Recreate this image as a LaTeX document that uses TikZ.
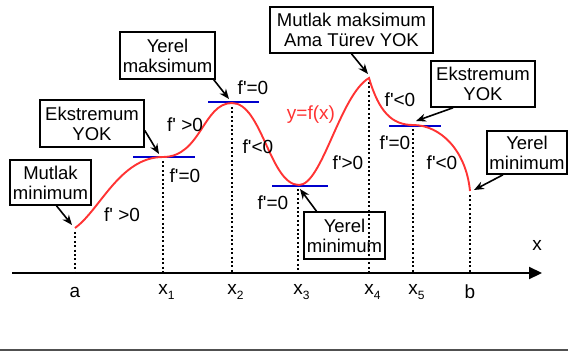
\documentclass[tikz,border=0pt]{standalone}
\usepackage{fontspec}
\setmainfont{Liberation Sans}
\usetikzlibrary{arrows.meta}
\definecolor{cred}{RGB}{255,51,51}
\definecolor{cblue}{RGB}{0,0,204}
\definecolor{cgray}{RGB}{80,80,80}
\newcommand{\fpr}{f\textquotesingle}
\begin{document}
\begin{tikzpicture}[x=1pt,y=-1pt,
 box/.style={draw,line width=1.6pt,align=center,inner sep=0pt,font=\fontsize{18.5}{20}\selectfont},
 lbl/.style={font=\fontsize{19}{20}\selectfont,inner sep=0pt},
 ptr/.style={line width=1.6pt,-{Stealth[length=10pt,width=8pt]}},
 tang/.style={cblue,line width=2.2pt},
 guide/.style={line width=2pt,dash pattern=on 2pt off 2.4pt},
]
\useasboundingbox (0,0) rectangle (568,356);
% bottom rule
\coordinate (r0) at (0,350); \coordinate (r1) at (568,350);
\draw[cgray,line width=1.5pt] (r0) -- (r1);
% axis
\coordinate (ax0) at (12,273); \coordinate (ax1) at (542,273);
\draw[line width=2.2pt,-{Triangle[length=13pt,width=12pt]}] (ax0) -- (ax1);
\node[lbl] (xl) at (537,245) {x};
% curve points
\coordinate (pa) at (75,228);
\coordinate (p1) at (163,157);
\coordinate (p2) at (232,103);
\coordinate (p3) at (299,185);
\coordinate (p4) at (369,78);
\coordinate (p5) at (413,125);
\coordinate (pb) at (470,191);
% feet
\foreach \n/\x in {a/75,1/163,2/232,3/298,4/369,5/413,b/470}{\coordinate (f\n) at (\x,273);}
% guides
\draw[guide] (75,232) -- (fa);
\draw[guide] (163,161) -- (f1);
\draw[guide] (232,107) -- (f2);
\draw[guide] (298,189) -- (f3);
\draw[guide] (369,82) -- (f4);
\draw[guide] (413,129) -- (f5);
\draw[guide] (470,195) -- (fb);
% tangents
\draw[tang] (133,157) -- (195,157);
\draw[tang] (208,102) -- (259,102);
\draw[tang] (272,186) -- (328,186);
\draw[tang] (389,126) -- (441,126);
% curve
\draw[cred,line width=1.9pt] (pa) .. controls (100,210) and (120,157) .. (p1)
  .. controls (201,157) and (203,103) .. (p2)
  .. controls (262,103) and (270,185) .. (p3)
  .. controls (322,185) and (340,95) .. (p4)
  .. controls (379,112) and (392,125) .. (p5)
  .. controls (440,125) and (466,150) .. (pb);
% axis labels
\node[lbl] (la) at (75,292) {a};
\node[lbl] (l1) at (163,292) {x\rlap{\raisebox{-5pt}{\fontsize{12}{12}\selectfont 1}}};
\node[lbl] (l2) at (232,292) {x\rlap{\raisebox{-5pt}{\fontsize{12}{12}\selectfont 2}}};
\node[lbl] (l3) at (298,292) {x\rlap{\raisebox{-5pt}{\fontsize{12}{12}\selectfont 3}}};
\node[lbl] (l4) at (369,292) {x\rlap{\raisebox{-5pt}{\fontsize{12}{12}\selectfont 4}}};
\node[lbl] (l5) at (413,292) {x\rlap{\raisebox{-5pt}{\fontsize{12}{12}\selectfont 5}}};
\node[lbl] (lb) at (470,292) {b};
% derivative labels
\node[lbl] (d1) at (253,88) {\fpr=0};
\node[lbl] (d2) at (185,125) {\fpr{} >0};
\node[lbl] (d3) at (258,147) {\fpr<0};
\node[lbl] (d4) at (185,176) {\fpr=0};
\node[lbl] (d5) at (122,215) {\fpr{} >0};
\node[lbl] (d6) at (273,203) {\fpr=0};
\node[lbl,text=cred] (yf) at (311,115) {y=f(x)};
\node[lbl] (d7) at (348,163) {\fpr>0};
\node[lbl] (d8) at (400,100) {\fpr<0};
\node[lbl] (d9) at (395,143) {\fpr=0};
\node[lbl] (d10) at (442,163) {\fpr<0};
% boxes
\node[box,minimum width=81pt,minimum height=45pt] (bmin) at (50.5,182.5) {Mutlak\\minimum};
\node[box,minimum width=104pt,minimum height=47pt] (bek1) at (92,123.5) {Ekstremum\\YOK};
\node[box,minimum width=95pt,minimum height=47pt] (bymax) at (167.5,55.5) {Yerel\\maksimum};
\node[box,minimum width=163pt,minimum height=46pt] (bmax) at (351.5,30) {Mutlak maksimum\\Ama Türev YOK};
\node[box,minimum width=104pt,minimum height=46pt] (bek2) at (483,84) {Ekstremum\\YOK};
\node[box,minimum width=80pt,minimum height=43pt] (bymin2) at (527,152.5) {Yerel\\minimum};
\node[box,minimum width=81pt,minimum height=47pt] (bymin1) at (344.5,235.5) {Yerel\\minimum};
% arrow tips
\coordinate (t1) at (72,225);
\coordinate (t2) at (159,154);
\coordinate (t3) at (229,99);
\coordinate (t4) at (368,74);
\coordinate (t5) at (416,121);
\coordinate (t6) at (474,190);
\coordinate (t7) at (300,189);
\draw[ptr] (bmin.south) ++(6,0) -- (t1);
\draw[ptr] (bek1.east) ++(0,7) -- (t2);
\draw[ptr] (bymax.south east) ++(-2,0) -- (t3);
\draw[ptr] (bmax.south) ++(0,0) -- (t4);
\draw[ptr] (bek2.south) ++(-30,0) -- (t5);
\draw[ptr] (bymin2.south) ++(-24,0) -- (t6);
\draw[ptr] (bymin1.north) ++(-28,0) -- (t7);
\end{tikzpicture}
\end{document}
